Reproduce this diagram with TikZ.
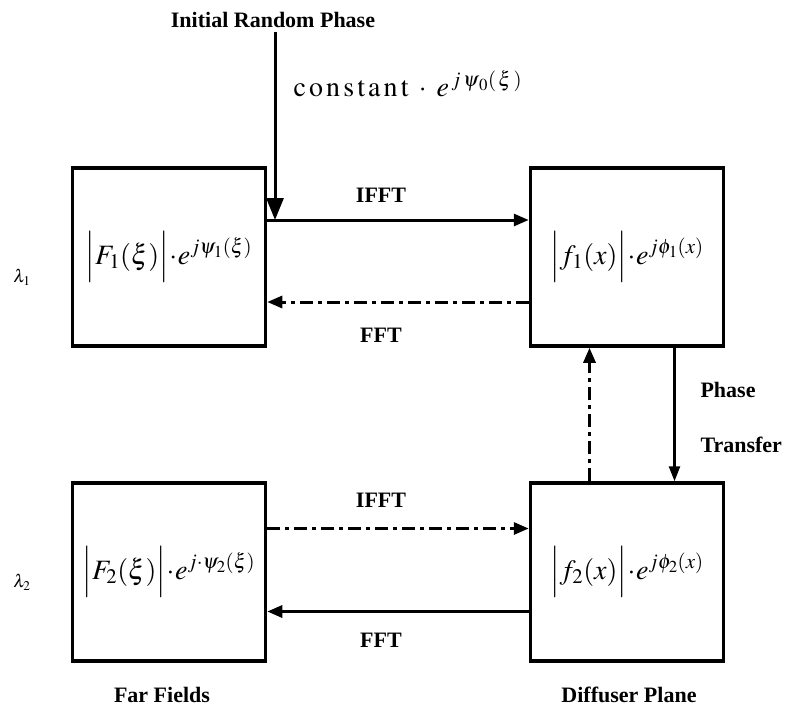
\documentclass[tikz,border=0pt]{standalone}
\usepackage{mathptmx}
\usepackage[no-math]{fontspec}
\setmainfont{Liberation Serif}
\usetikzlibrary{arrows.meta,positioning,calc}

\tikzset{
  field/.style={draw, line width=3.5pt, minimum width=193pt, minimum height=178pt, inner sep=0pt,
    font=\fontsize{28}{32}\selectfont},
  lbl/.style={font=\fontsize{22}{26}\selectfont\bfseries},
  flow/.style={line width=3pt, -{Triangle[length=15pt,width=12pt]}},
  dashdot/.style={flow, dash pattern=on 13pt off 5pt on 4pt off 5pt},
}

\begin{document}
\begin{tikzpicture}[x=1pt,y=-1pt]
\useasboundingbox (0,0) rectangle (791,706);
% Field boxes
\node[field] (farone) at (169,257) {$\Bigl|F_1(\xi)\Bigr|\!\cdot\! e^{j\psi_1(\xi)}$};
\node[field] (diffone) at (627,257) {$\Bigl|f_1(x)\Bigr|\!\cdot\! e^{j\phi_1(x)}$};
\node[field] (fartwo) at (169,572) {$\Bigl|F_2(\xi)\Bigr|\!\cdot\! e^{j\cdot\psi_2(\xi)}$};
\node[field] (difftwo) at (627,572) {$\Bigl|f_2(x)\Bigr|\!\cdot\! e^{j\phi_2(x)}$};

% Initial phase
\node[lbl] (init) at (273,20) {Initial Random Phase};
\coordinate (ini) at (275,32);
\coordinate (ifftA) at ([yshift=37pt]farone.east);
\draw[line width=3pt, -{Triangle[length=22pt,width=17pt]}] (ini) -- (ini |- ifftA);
\node[anchor=west, font=\fontsize{28}{32}\selectfont] (const) at (290,84)
  {$\mathrm{c\,o\,n\,s\,t\,a\,n\,t}\;\cdot\; e^{\,j\,\psi_{\,0}(\,\xi\,)}$};

% Wavelength 1
\draw[flow] (ifftA) -- ([yshift=37pt]diffone.west);
\draw[dashdot] ([yshift=-45pt]diffone.west) -- ([yshift=-45pt]farone.east);
\node[lbl] (ifftone) at (381,195) {IFFT};
\node[lbl] (fftone) at (381,335) {FFT};

% Phase transfer
\draw[line width=2.5pt, -{Triangle[length=15pt,width=11pt]}] ([xshift=47.5pt]diffone.south) -- ([xshift=47.5pt]difftwo.north);
\draw[dashdot] ([xshift=-37.5pt]difftwo.north) -- ([xshift=-37.5pt]diffone.south);
\node[lbl, anchor=west] (phase) at (697,390) {Phase};
\node[lbl, anchor=west] (transfer) at (697,445) {Transfer};

% Wavelength 2
\draw[dashdot] ([yshift=43.5pt]fartwo.east) -- ([yshift=43.5pt]difftwo.west);
\draw[flow] ([yshift=-39.5pt]difftwo.west) -- ([yshift=-39.5pt]fartwo.east);
\node[lbl] (iffttwo) at (381,500) {IFFT};
\node[lbl] (ffttwo) at (381,640) {FFT};

% Labels
\node[font=\fontsize{18}{20}\selectfont] (lamone) at (22,277) {$\lambda_1$};
\node[font=\fontsize{18}{20}\selectfont] (lamtwo) at (22,582) {$\lambda_2$};
\node[lbl] (farlbl) at (162,695) {Far Fields};
\node[lbl] (difflbl) at (629,695) {Diffuser Plane};
\end{tikzpicture}
\end{document}
